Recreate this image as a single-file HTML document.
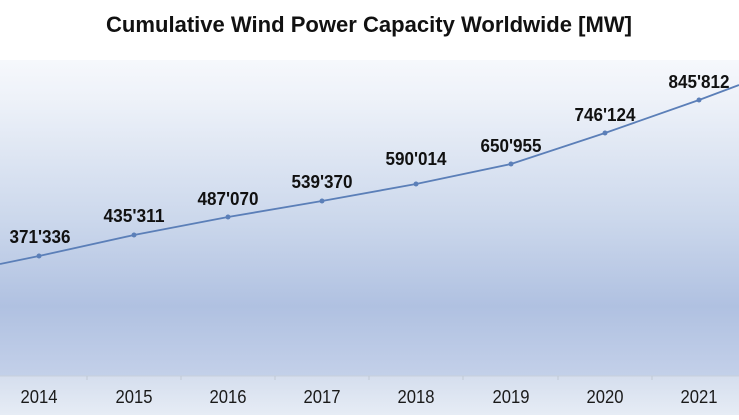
<!DOCTYPE html>
<html><head><style>
body{margin:0;width:739px;height:415px;overflow:hidden;font-family:"Liberation Sans",sans-serif;}
</style></head><body>
<svg width="739" height="415" xmlns="http://www.w3.org/2000/svg">
<defs>
<linearGradient id="g" x1="0" y1="0" x2="0" y2="1">
<stop offset="0" stop-color="#f6f8fc"/>
<stop offset="0.12" stop-color="#eef2f9"/>
<stop offset="0.5" stop-color="#ccd8ec"/>
<stop offset="0.78" stop-color="#b0c1e1"/>
<stop offset="1" stop-color="#c3d0e9"/>
</linearGradient>
<linearGradient id="b" x1="0" y1="0" x2="0" y2="1">
<stop offset="0" stop-color="#d5deee"/>
<stop offset="1" stop-color="#e6ecf5"/>
</linearGradient>
</defs>
<rect width="739" height="415" fill="#ffffff"/>
<rect x="0" y="60" width="739" height="316" fill="url(#g)"/>
<rect x="0" y="376" width="739" height="39" fill="url(#b)"/>
<line x1="0" y1="376" x2="739" y2="376" stroke="#c8d0dc" stroke-width="1"/>
<g stroke="#c0c8d4" stroke-width="1">
<line x1="87" y1="376" x2="87" y2="380"/><line x1="181" y1="376" x2="181" y2="380"/><line x1="275" y1="376" x2="275" y2="380"/><line x1="369" y1="376" x2="369" y2="380"/><line x1="463" y1="376" x2="463" y2="380"/><line x1="558" y1="376" x2="558" y2="380"/><line x1="652" y1="376" x2="652" y2="380"/>
</g>
<text x="369" y="32" text-anchor="middle" font-size="22" font-weight="bold" fill="#111" textLength="526" lengthAdjust="spacingAndGlyphs">Cumulative Wind Power Capacity Worldwide [MW]</text>
<polyline fill="none" stroke="#5b7fb8" stroke-width="1.8" points="0,264 39,256 134,235 228,217 322,201 416,184 511,164 605,133 699,100 739,85"/>
<g fill="#5b7fb8">
<circle cx="39" cy="256" r="2.5"/><circle cx="134" cy="235" r="2.5"/><circle cx="228" cy="217" r="2.5"/><circle cx="322" cy="201" r="2.5"/><circle cx="416" cy="184" r="2.5"/><circle cx="511" cy="164" r="2.5"/><circle cx="605" cy="133" r="2.5"/><circle cx="699" cy="100" r="2.5"/>
</g>
<g font-size="18" font-weight="bold" fill="#111" text-anchor="middle" lengthAdjust="spacingAndGlyphs">
<text x="40" y="243" textLength="61" lengthAdjust="spacingAndGlyphs">371'336</text>
<text x="134" y="222" textLength="61" lengthAdjust="spacingAndGlyphs">435'311</text>
<text x="228" y="205" textLength="61" lengthAdjust="spacingAndGlyphs">487'070</text>
<text x="322" y="188" textLength="61" lengthAdjust="spacingAndGlyphs">539'370</text>
<text x="416" y="165" textLength="61" lengthAdjust="spacingAndGlyphs">590'014</text>
<text x="511" y="152" textLength="61" lengthAdjust="spacingAndGlyphs">650'955</text>
<text x="605" y="121" textLength="61" lengthAdjust="spacingAndGlyphs">746'124</text>
<text x="699" y="88" textLength="61" lengthAdjust="spacingAndGlyphs">845'812</text>
</g>
<g font-size="18" fill="#1a1a1a" text-anchor="middle">
<text x="39" y="403" textLength="37" lengthAdjust="spacingAndGlyphs">2014</text><text x="134" y="403" textLength="37" lengthAdjust="spacingAndGlyphs">2015</text><text x="228" y="403" textLength="37" lengthAdjust="spacingAndGlyphs">2016</text><text x="322" y="403" textLength="37" lengthAdjust="spacingAndGlyphs">2017</text><text x="416" y="403" textLength="37" lengthAdjust="spacingAndGlyphs">2018</text><text x="511" y="403" textLength="37" lengthAdjust="spacingAndGlyphs">2019</text><text x="605" y="403" textLength="37" lengthAdjust="spacingAndGlyphs">2020</text><text x="699" y="403" textLength="37" lengthAdjust="spacingAndGlyphs">2021</text>
</g>
</svg>
</body></html>
